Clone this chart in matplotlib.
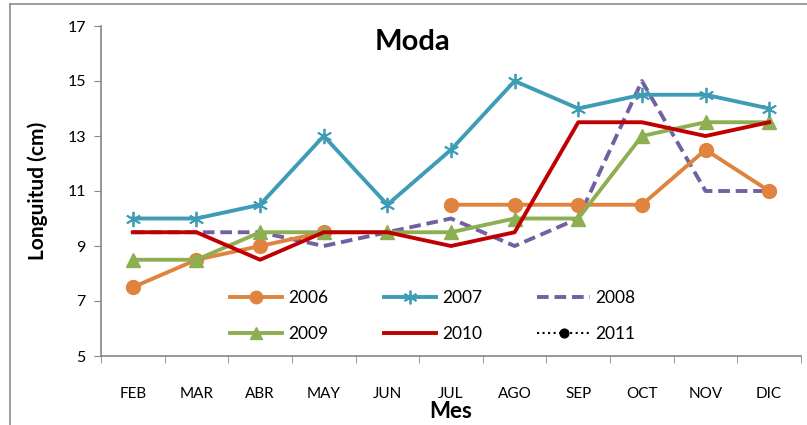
import matplotlib
matplotlib.use('Agg')
import matplotlib.pyplot as plt
from matplotlib.lines import Line2D
import numpy as np

plt.rcParams['font.family'] = ['Lato', 'DejaVu Sans']

meses = ['FEB', 'MAR', 'ABR', 'MAY', 'JUN', 'JUL', 'AGO', 'SEP', 'OCT', 'NOV', 'DIC']
y2006 = [7.5, 8.5, 9.0, 9.5, np.nan, 10.5, 10.5, 10.5, 10.5, 12.5, 11.0]
y2007 = [10.0, 10.0, 10.5, 13.0, 10.5, 12.5, 15.0, 14.0, 14.5, 14.5, 14.0]
y2008 = [9.5, 9.5, 9.5, 9.0, 9.5, 10.0, 9.0, 10.0, 15.0, 11.0, 11.0]
y2009 = [8.5, 8.5, 9.5, 9.5, 9.5, 9.5, 10.0, 10.0, 13.0, 13.5, 13.5]
y2010 = [9.5, 9.5, 8.5, 9.5, 9.5, 9.0, 9.5, 13.5, 13.5, 13.0, 13.5]
y2011 = []  # only in legend

c_orange = '#E0833E'
c_blue = '#3F9CB6'
c_purple = '#7260A0'
c_green = '#8DAF52'
c_red = '#C00000'

fig = plt.figure(figsize=(8.07, 4.25), dpi=100)
ax = fig.add_axes([101 / 807, 1 - 356 / 425, 700 / 807, 330 / 425])
x = np.arange(len(meses))

l06, = ax.plot(x, y2006, color=c_orange, lw=2.8, marker='o', ms=10, label='2006', zorder=3)
l07, = ax.plot(x, y2007, color=c_blue, lw=2.8, marker=(6, 2, 0), ms=11, mew=1.3, label='2007', zorder=5)
l08, = ax.plot(x, y2008, color=c_purple, lw=2.8, ls=(0, (3, 1.5)), label='2008', zorder=2)
l09, = ax.plot(x, y2009, color=c_green, lw=2.8, marker='^', ms=10, label='2009', zorder=3)
l10, = ax.plot(x, y2010, color=c_red, lw=2.8, label='2010', zorder=4)
l11, = ax.plot(x[:len(y2011)], y2011, color='black', lw=1.5, ls=':', marker='o', ms=7, label='2011')

ax.set_xlim(-0.5, len(meses) - 0.5)
ax.set_ylim(5, 17)
ax.set_yticks(np.arange(5, 18, 2))
ax.set_xticks(x)
ax.set_xticklabels(meses)
ax.set_xticks(np.arange(-0.5, len(meses), 1), minor=True)
ax.tick_params(axis='x', which='major', length=0, pad=22, labelsize=11)
ax.tick_params(axis='x', which='minor', length=5, direction='out', color='#868686')
ax.tick_params(axis='y', length=5, direction='out', color='#868686', labelsize=11.5, pad=6)

for s in ['top', 'right']:
    ax.spines[s].set_visible(False)
for s in ['left', 'bottom']:
    ax.spines[s].set_color('#868686')
    ax.spines[s].set_linewidth(1.2)

ax.set_xlabel('Mes', fontsize=16, fontweight='bold', labelpad=0)
ax.set_ylabel('Longuitud (cm)', fontsize=15, fontweight='bold', labelpad=14)
ax.text(0.445, 0.95, 'Moda', transform=ax.transAxes, ha='center', va='center',
        fontsize=21, fontweight='bold')

# row-wise order as in the original legend
handles = [l06, l09, l07, l10, l08, l11]
ax.legend(handles=handles, labels=[h.get_label() for h in handles],
          loc='lower center', bbox_to_anchor=(0.474, -0.005), ncol=3, frameon=False,
          fontsize=12.5, handlelength=3.0, columnspacing=3.2, labelspacing=1.15,
          handletextpad=0.35, markerscale=0.9)

# frame around the chart
fig.add_artist(Line2D([10 / 807, 10 / 807], [0, 1 - 4 / 425], color='#8C8C8C', lw=1.2))
fig.add_artist(Line2D([10 / 807, 1], [1 - 4 / 425, 1 - 4 / 425], color='#8C8C8C', lw=1.2))

fig.savefig('out.png', dpi=100)
plt.close(fig)
